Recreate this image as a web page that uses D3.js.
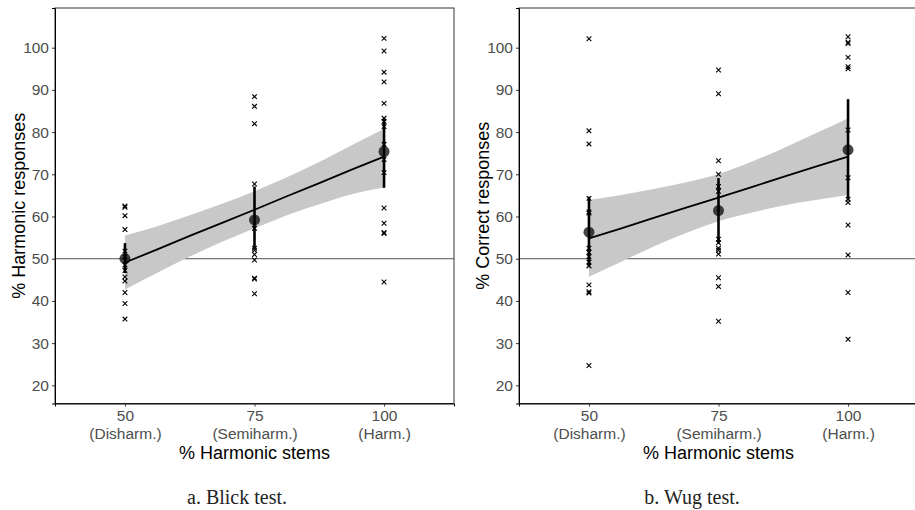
<!DOCTYPE html>
<html>
<head>
<meta charset="utf-8">
<script src="https://cdn.jsdelivr.net/npm/d3@7"></script>
<style>
  body { margin: 0; background: #fff; }
  svg { display: block; }
</style>
</head>
<body>
<div id="chart"></div>
<script>
// --- data ---
const groups = [50, 75, 100];
const groupLabels = ['(Disharm.)', '(Semiharm.)', '(Harm.)'];
const yTicks = [20, 30, 40, 50, 60, 70, 80, 90, 100];
const chance = 50;

// Blick test: individual participants
const blick50 = [62.5, 62.2, 60.2, 56.9, 51.8, 50.5, 48.5, 47.2, 45.7, 44.7, 42.0, 39.4, 35.7];
const blick75 = [88.4, 86.1, 82.0, 67.7, 57.2, 52.5, 52.0, 51.0, 49.7, 45.4, 45.2, 41.7];
const blick100 = [102.2, 99.2, 94.2, 91.9, 86.8, 83.3, 82.5, 81.3, 77.1, 73.5, 70.4, 62.0, 58.4, 56.2, 56.0, 44.5];
const blickMean = [50.0, 59.2, 75.4];
const blickLo = [46.6, 52.5, 66.8];
const blickHi = [53.7, 67.1, 83.5];

// Wug test: individual participants
const wug50 = [102.1, 80.3, 77.2, 64.3, 61.1, 60.8, 52.5, 51.5, 50.5, 49.2, 48.3, 43.8, 42.2, 41.9, 24.7];
const wug75 = [94.7, 89.1, 73.2, 70.0, 67.1, 66.0, 54.6, 53.8, 52.5, 52.0, 51.1, 45.5, 43.4, 35.2];
const wug100 = [102.6, 101.3, 101.0, 97.7, 95.5, 95.0, 80.5, 69.2, 64.1, 63.3, 58.0, 50.9, 42.0, 30.9];
const wugMean = [56.3, 61.4, 75.8];
const wugLo = [48.1, 53.6, 63.9];
const wugHi = [64.7, 69.1, 87.8];

// linear fit + confidence band
const bandX = [50, 56.25, 62.5, 68.75, 75, 81.25, 87.5, 93.75, 100];
const blickFit = [49.1, 52.2, 55.4, 58.5, 61.6, 64.8, 67.9, 71.1, 74.2];
const blickUpper = [55.5, 57.7, 60.3, 63.0, 66.0, 69.3, 72.9, 76.9, 80.8];
const blickLower = [42.7, 46.7, 50.5, 54.0, 57.2, 60.3, 62.9, 65.3, 66.9];
const wugFit = [54.8, 57.2, 59.7, 62.1, 64.5, 66.9, 69.4, 71.8, 74.2];
const wugUpper = [63.9, 65.1, 66.5, 68.1, 70.1, 72.9, 76.2, 79.7, 83.3];
const wugLower = [45.7, 49.3, 52.9, 56.1, 58.9, 60.9, 62.6, 63.9, 65.1];

const W = 915, H = 510;
const svg = d3.select('#chart').append('svg')
  .attr('width', W)
  .attr('height', H)
  .style('font-family', '"Liberation Sans", Arial, Helvetica, sans-serif');

const plotTop = 8, plotBottom = 403.5;

drawPanel({
  left: 55, right: 454,
  title: '% Harmonic responses',
  caption: 'a. Blick test.', captionX: 237,
  raw: [blick50, blick75, blick100],
  mean: blickMean, lo: blickLo, hi: blickHi,
  fit: blickFit, upper: blickUpper, lower: blickLower
});

drawPanel({
  left: 519, right: 918,
  title: '% Correct responses',
  caption: 'b. Wug test.', captionX: 692,
  raw: [wug50, wug75, wug100],
  mean: wugMean, lo: wugLo, hi: wugHi,
  fit: wugFit, upper: wugUpper, lower: wugLower
});

function drawPanel(p) {
  const x = d3.scaleLinear().domain([36.5, 113.5]).range([p.left, p.right]);
  const y = d3.scaleLinear().domain([15.7, 109.4]).range([plotBottom, plotTop]);
  const g = svg.append('g');

  // panel border (top/right)
  g.append('rect')
    .attr('x', p.left).attr('y', plotTop)
    .attr('width', p.right - p.left).attr('height', plotBottom - plotTop)
    .attr('fill', 'none')
    .attr('stroke', '#333')
    .attr('stroke-width', 1);

  // chance line
  g.append('line')
    .attr('x1', p.left).attr('x2', p.right)
    .attr('y1', y(chance)).attr('y2', y(chance))
    .attr('stroke', '#555')
    .attr('stroke-width', 1);

  // confidence band
  const band = bandX.map((v, i) => ({x: v, lo: p.lower[i], hi: p.upper[i], fit: p.fit[i]}));
  g.append('path')
    .datum(band)
    .attr('fill', '#c8c8c8')
    .attr('d', d3.area()
      .x(d => x(d.x))
      .y0(d => y(d.lo))
      .y1(d => y(d.hi))
      .curve(d3.curveMonotoneX));

  // individual participants
  const pts = [];
  p.raw.forEach((arr, i) => arr.forEach(v => pts.push({g: groups[i], v})));
  g.selectAll('.pt')
    .data(pts)
    .enter().append('path')
      .attr('class', 'pt')
      .attr('transform', d => `translate(${x(d.g)},${y(d.v)})`)
      .attr('d', d3.symbol(d3.symbolX, 16))
      .attr('fill', 'none')
      .attr('stroke', '#000')
      .attr('stroke-width', 1.1);

  // fit line
  g.append('path')
    .datum(band)
    .attr('fill', 'none')
    .attr('stroke', '#000')
    .attr('stroke-width', 1.8)
    .attr('d', d3.line().x(d => x(d.x)).y(d => y(d.fit)));

  // means with intervals
  const means = groups.map((gv, i) => ({g: gv, m: p.mean[i], lo: p.lo[i], hi: p.hi[i]}));
  g.selectAll('.bar')
    .data(means)
    .enter().append('line')
      .attr('class', 'bar')
      .attr('x1', d => x(d.g)).attr('x2', d => x(d.g))
      .attr('y1', d => y(d.lo)).attr('y2', d => y(d.hi))
      .attr('stroke', '#000')
      .attr('stroke-width', 2.6);
  g.selectAll('.mean')
    .data(means)
    .enter().append('circle')
      .attr('class', 'mean')
      .attr('cx', d => x(d.g))
      .attr('cy', d => y(d.m))
      .attr('r', 5.5)
      .attr('fill', '#000')
      .attr('fill-opacity', 0.72);

  // axes
  const yAxis = g.append('g')
    .attr('transform', `translate(${p.left},0)`)
    .call(d3.axisLeft(y).tickValues(yTicks).tickSize(3).tickPadding(3));
  yAxis.select('.domain').attr('stroke', '#000');
  yAxis.selectAll('.tick line').attr('stroke', '#333');
  yAxis.selectAll('.tick text')
    .attr('fill', '#4d4d4d')
    .style('font-size', '15.5px')
    .style('font-family', '"Liberation Sans", Arial, sans-serif');

  const xAxis = g.append('g')
    .attr('transform', `translate(0,${plotBottom})`)
    .call(d3.axisBottom(x).tickValues(groups).tickSize(3).tickPadding(4));
  xAxis.select('.domain').attr('stroke', '#000');
  xAxis.selectAll('.tick line').attr('stroke', '#333');
  xAxis.selectAll('.tick text').remove();
  xAxis.selectAll('.tick').each(function(d, i) {
    const t = d3.select(this).append('text')
      .attr('fill', '#4d4d4d')
      .attr('text-anchor', 'middle')
      .style('font-size', '15.5px')
      .style('font-family', '"Liberation Sans", Arial, sans-serif');
    t.append('tspan').attr('x', 0).attr('y', 17).text(d);
    t.append('tspan').attr('x', 0).attr('y', 35).text(groupLabels[i]);
  });

  // axis titles
  g.append('text')
    .attr('x', (x(50) + x(100)) / 2)
    .attr('y', 458.5)
    .attr('text-anchor', 'middle')
    .style('font-size', '18px')
    .attr('fill', '#000')
    .text('% Harmonic stems');

  g.append('text')
    .attr('transform', `translate(${p.left - 30},${(plotTop + plotBottom) / 2}) rotate(-90)`)
    .attr('text-anchor', 'middle')
    .style('font-size', '18px')
    .attr('fill', '#000')
    .text(p.title);

  // caption
  svg.append('text')
    .attr('x', p.captionX)
    .attr('y', 504)
    .attr('text-anchor', 'middle')
    .style('font-family', '"Liberation Serif", "Times New Roman", serif')
    .style('font-size', '20px')
    .attr('fill', '#222')
    .text(p.caption);
}
</script>
</body>
</html>
